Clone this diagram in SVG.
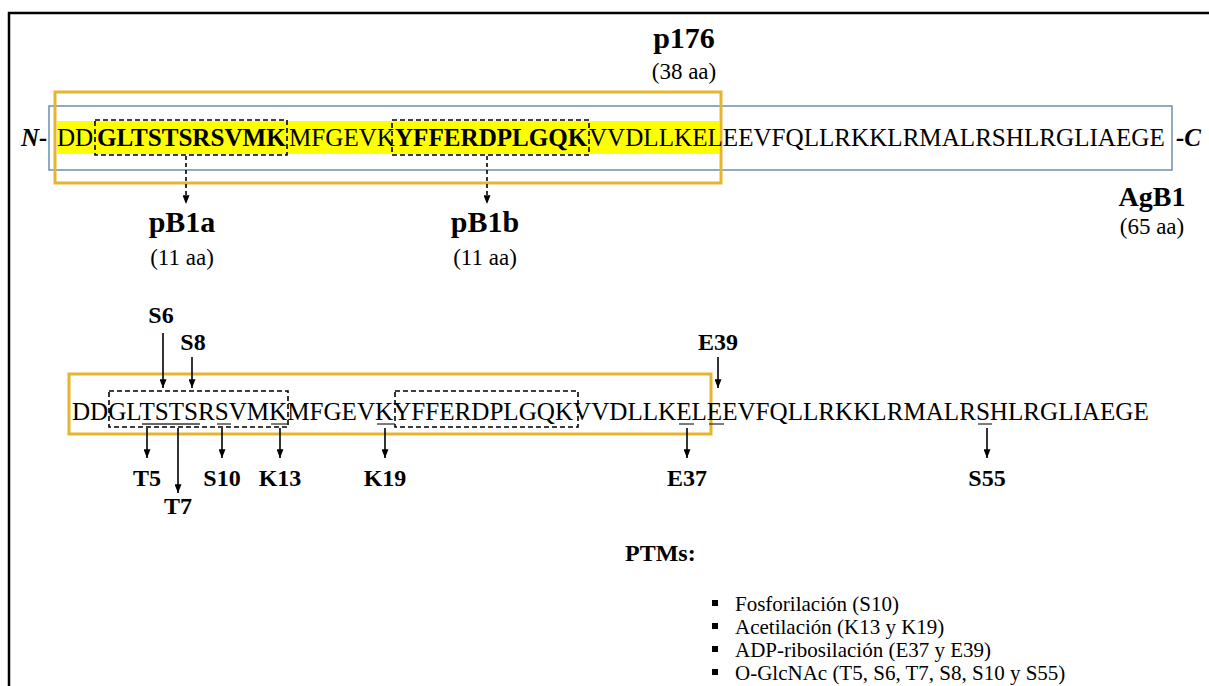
<svg xmlns="http://www.w3.org/2000/svg" width="1209" height="686" viewBox="0 0 1209 686">
  <style>
    text { font-family: "Liberation Serif", "Times New Roman", serif; fill: #000; }
    .seq { font-size: 25.1px; }
    .b { font-weight: bold; }
    .lbl { font-size: 30px; font-weight: bold; text-anchor: middle; }
    .len { font-size: 23px; text-anchor: middle; }
    .site { font-size: 24px; font-weight: bold; text-anchor: middle; }
    .term { font-size: 25px; font-weight: bold; font-style: italic; }
    .ptm { font-size: 21px; }
    .frame { fill: none; stroke: #000; stroke-width: 2.5; }
    .gold { fill: none; stroke: #E6B52E; stroke-width: 3; }
    .blue { fill: none; stroke: #6E8FB0; stroke-width: 1.5; }
    .dbox { fill: none; stroke: #000; stroke-width: 1.6; stroke-dasharray: 5 3; }
    .arr { stroke: #000; stroke-width: 1.6; fill: none; marker-end: url(#ah); }
    .darr { stroke: #000; stroke-width: 1.6; fill: none; stroke-dasharray: 4 3; marker-end: url(#ah); }
    .ul { stroke: #333; stroke-width: 1.3; }
  </style>
  <defs>
    <marker id="ah" viewBox="0 0 10 8" refX="10" refY="4" markerWidth="9" markerHeight="7" markerUnits="userSpaceOnUse" orient="auto">
      <path d="M0,0 L10,4 L0,8 z" fill="#000"/>
    </marker>
  </defs>

  <rect width="1209" height="686" fill="#fff"/>
  <!-- outer frame (only top and left edges fall inside the canvas) -->
  <path class="frame" d="M9,686 V13 H1209"/>

  <!-- full-length AgB1 sequence with the p176 region highlighted -->
  <g id="agb1-sequence">
    <rect x="49" y="106" width="1123" height="64" class="blue"/>
    <rect x="57" y="121" width="662" height="33" fill="#FFFF00"/>
    <rect x="55" y="92" width="666" height="91" class="gold"/>
    <text x="21" y="146" class="term">N-</text>
    <text y="146" class="seq">
      <tspan x="57">DD</tspan><tspan x="97" class="b">GLTSTSRSVMK</tspan><tspan x="289">MFGEVK</tspan><tspan x="395" class="b">YFFERDPLGQK</tspan><tspan x="589">VVDLLKEL</tspan><tspan>EEVFQLLRKKLRMALRSHLRGLIAEGE</tspan>
    </text>
    <text x="1176" y="146" class="term">-C</text>
    <rect x="95" y="120" width="192" height="35" class="dbox"/>
    <rect x="392" y="120" width="197" height="35" class="dbox"/>
  </g>

  <g id="p176">
    <text x="684" y="48" class="lbl">p176</text>
    <text x="684" y="79" class="len">(38 aa)</text>
  </g>

  <g id="agb1">
    <text x="1152" y="206" class="lbl" style="font-size:28px">AgB1</text>
    <text x="1152" y="234" class="len">(65 aa)</text>
  </g>

  <g id="pB1a">
    <text x="182" y="232" class="lbl">pB1a</text>
    <text x="182" y="265" class="len">(11 aa)</text>
  </g>

  <g id="pB1b">
    <text x="485" y="232" class="lbl">pB1b</text>
    <text x="485" y="265" class="len">(11 aa)</text>
  </g>

  <!-- sequence with modified residues underlined -->
  <g id="ptm-sequence">
    <rect x="69" y="374" width="642" height="60" class="gold"/>
    <text x="72" y="420" class="seq">DDGLTSTSRSVMKMFGEVKYFFERDPLGQKVVDLLKELEEVFQLLRKKLRMALRSHLRGLIAEGE</text>
    <rect x="109" y="391" width="179" height="36" class="dbox"/>
    <rect x="395" y="391" width="183" height="36" class="dbox"/>
    <g class="ul">
      <line x1="142" y1="424" x2="200" y2="424"/>
      <line x1="217" y1="424" x2="231" y2="424"/>
      <line x1="271" y1="424" x2="289" y2="424"/>
      <line x1="377" y1="424" x2="395" y2="424"/>
      <line x1="679" y1="424" x2="694" y2="424"/>
      <line x1="709" y1="424" x2="724" y2="424"/>
      <line x1="978" y1="424" x2="992" y2="424"/>
    </g>
  </g>

  <g id="site-labels">
    <text x="161" y="323" class="site">S6</text>
    <text x="193" y="350" class="site">S8</text>
    <text x="718" y="350" class="site">E39</text>
    <text x="147" y="486" class="site">T5</text>
    <text x="178" y="514" class="site">T7</text>
    <text x="222" y="486" class="site">S10</text>
    <text x="280" y="486" class="site">K13</text>
    <text x="385" y="486" class="site">K19</text>
    <text x="687" y="486" class="site">E37</text>
    <text x="987" y="486" class="site">S55</text>
  </g>

  <g id="connectors">
    <line class="darr" x1="186" y1="156" x2="186" y2="204"/>
    <line class="darr" x1="487" y1="156" x2="487" y2="204"/>
    <line class="arr" x1="163" y1="333" x2="163" y2="388"/>
    <line class="arr" x1="192" y1="357" x2="192" y2="388"/>
    <line class="arr" x1="718" y1="357" x2="718" y2="388"/>
    <line class="arr" x1="147" y1="428" x2="147" y2="458"/>
    <line class="arr" x1="178" y1="428" x2="178" y2="493"/>
    <line class="arr" x1="222" y1="428" x2="222" y2="458"/>
    <line class="arr" x1="280" y1="428" x2="280" y2="458"/>
    <line class="arr" x1="385" y1="428" x2="385" y2="458"/>
    <line class="arr" x1="687" y1="428" x2="687" y2="458"/>
    <line class="arr" x1="987" y1="428" x2="987" y2="458"/>
  </g>

  <g id="ptm-legend">
    <text x="625" y="561" class="site" style="text-anchor:start">PTMs:</text>
    <g fill="#000">
      <rect x="712" y="600" width="6" height="6"/>
      <rect x="712" y="623" width="6" height="6"/>
      <rect x="712" y="646" width="6" height="6"/>
      <rect x="712" y="669" width="6" height="6"/>
    </g>
    <text x="735" y="611" class="ptm">Fosforilación (S10)</text>
    <text x="735" y="634" class="ptm">Acetilación (K13 y K19)</text>
    <text x="735" y="657" class="ptm">ADP-ribosilación (E37 y E39)</text>
    <text x="735" y="680" class="ptm">O-GlcNAc (T5, S6, T7, S8, S10 y S55)</text>
  </g>
</svg>
